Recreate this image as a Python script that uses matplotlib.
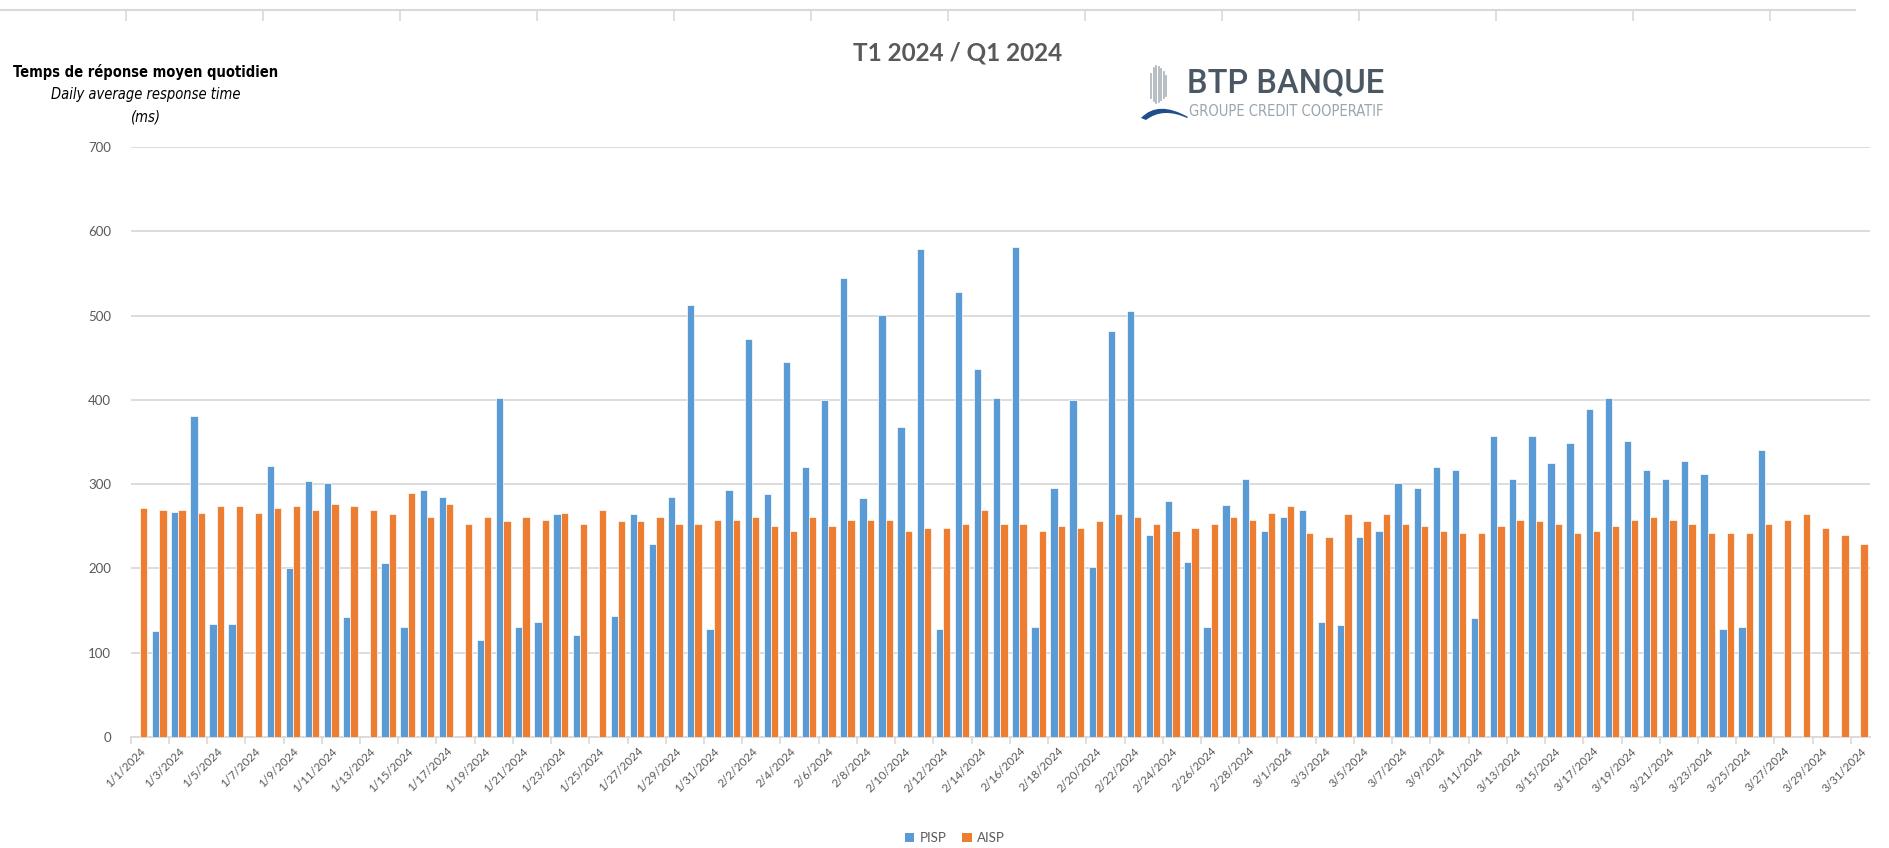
import numpy as np
import pandas as pd
import matplotlib
matplotlib.use("Agg")
import matplotlib.pyplot as plt
from matplotlib.patches import Patch, PathPatch
from matplotlib.path import Path
from matplotlib.lines import Line2D

# ---------------- data ----------------
dates = pd.date_range("2024-01-01", "2024-03-31", freq="D")
date_labels = [f"{d.month}/{d.day}/{d.year}" for d in dates]

N = np.nan
pisp = [N, 126, 267, 381, 134, 134, N, 322, 200, 304, 301, 142, N, 206, 131, 293,
        285, N, 115, 402, 131, 136, 264, 121, N, 144, 264, 229, 285, 512, 128,
        293, 472, 288, 445, 320, 400, 544, 283, 501, 368, 579, 128, 528, 437, 402,
        581, 131, 296, 400, 202, 482, 506, 240, 280, 208, 131, 275, 306, 245,
        261, 269, 136, 133, 237, 245, 301, 296, 320, 317, 141, 357, 306, 357, 325,
        349, 389, 402, 351, 317, 306, 328, 312, 128, 130, 341, N, N, N, N, N]
aisp = [272, 269, 269, 266, 274, 274, 266, 272, 274, 269, 277, 274, 269, 264, 290,
        261, 277, 253, 261, 256, 261, 258, 266, 253, 269, 256, 256, 261, 253, 253, 258,
        258, 261, 250, 245, 261, 250, 258, 258, 258, 245, 248, 248, 253, 269, 253,
        253, 245, 250, 248, 256, 264, 261, 253, 245, 248, 253, 261, 258, 266,
        274, 242, 237, 264, 256, 264, 253, 250, 245, 242, 242, 250, 258, 256, 253,
        242, 245, 250, 258, 261, 258, 253, 242, 242, 242, 253, 258, 264, 248, 240, 229]
series_names = ["PISP", "AISP"]
y_ticks = [0, 100, 200, 300, 400, 500, 600, 700]

# ---------------- style ----------------
W, H = 1889, 848
BLUE = "#5B9BD5"
ORANGE = "#ED7D31"
GRID = "#D9D9D9"
TXT = "#595959"

def fx(x):
    return x / W

def fy(y):
    return 1 - y / H

fig = plt.figure(figsize=(W / 100, H / 100), dpi=100)
fig.patch.set_facecolor("white")

left, right, top, bottom = 130.6, 1870, 147, 737
ax = fig.add_axes([fx(left), fy(bottom), fx(right - left), (bottom - top) / H])

x = np.arange(len(dates))
bw = 0.38
pisp_arr = np.array(pisp, dtype=float)
aisp_arr = np.array(aisp, dtype=float)
ax.bar(x - bw / 2, pisp_arr, width=bw, color=BLUE, edgecolor="white", linewidth=0.5,
       label=series_names[0], zorder=3)
ax.bar(x + bw / 2, aisp_arr, width=bw, color=ORANGE, edgecolor="white", linewidth=0.5,
       label=series_names[1], zorder=3)

ax.set_xlim(-0.5, len(dates) - 0.5)
ax.set_ylim(0, 700)
ax.set_yticks(y_ticks)
ax.set_yticklabels([str(v) for v in y_ticks], fontsize=9.5, color=TXT, family="Lato")
ax.yaxis.grid(True, color=GRID, linewidth=1.3, zorder=0)
ax.set_axisbelow(True)
for s in ["top", "right", "left"]:
    ax.spines[s].set_visible(False)
ax.spines["bottom"].set_color(GRID)
ax.spines["bottom"].set_linewidth(1.3)
ax.tick_params(axis="y", length=0, pad=14)

ax.set_xticks(x[::2])
ax.set_xticklabels(date_labels[::2], rotation=45, ha="right", va="top",
                   rotation_mode="anchor", fontsize=8.3, color=TXT, family="Lato")
ax.tick_params(axis="x", length=0, pad=6)
ax.set_xticks(np.arange(-0.5, len(dates), 2), minor=True)
ax.tick_params(axis="x", which="minor", length=5, color=GRID, width=1.2)

# ---------------- texts ----------------
fig.text(fx(958), fy(53), "T1 2024 / Q1 2024", ha="center", va="center",
         fontsize=17.5, fontweight="bold", color=TXT, family="Lato")

fam_n = ["DejaVu Sans"]
fig.text(fx(146), fy(72), "Temps de réponse moyen quotidien", ha="center", va="center",
         fontsize=10.5, fontweight="bold", fontstretch="condensed", color="black",
         family=fam_n)
fig.text(fx(146), fy(94), "Daily average response time", ha="center", va="center",
         fontsize=10.5, style="italic", fontstretch="condensed", color="black", family=fam_n)
fig.text(fx(146), fy(117), "(ms)", ha="center", va="center",
         fontsize=10.5, style="italic", fontstretch="condensed", color="black", family=fam_n)

# legend
handles = [Patch(facecolor=BLUE, edgecolor="none"), Patch(facecolor=ORANGE, edgecolor="none")]
fig.legend(handles, series_names, loc="center", bbox_to_anchor=(fx(955), fy(838)),
           ncol=2, frameon=False, labelcolor=TXT,
           handlelength=0.7, handleheight=0.7, handletextpad=0.4, columnspacing=1.2,
           prop={"family": "Lato", "size": 9.5})

# ---------------- logo ----------------
fig.text(fx(1187), fy(83), "BTP BANQUE", ha="left", va="center", fontsize=23.5,
         color="#4B5863", family="Roboto", fontweight="medium")
fig.text(fx(1189), fy(112), "GROUPE CREDIT COOPERATIF", ha="left", va="center",
         fontsize=10.5, fontstretch="condensed", color="#9AA6B0", family=fam_n)
stripe_x = [1151, 1153.5, 1156, 1158.5, 1161, 1163.5, 1166]
stripe_top = [74, 68, 66, 67, 69, 72, 76]
stripe_bot = [98, 101, 103, 102, 100, 98, 96]
for sx, st, sb in zip(stripe_x, stripe_top, stripe_bot):
    fig.add_artist(Line2D([fx(sx), fx(sx)], [fy(st), fy(sb)], transform=fig.transFigure,
                          color="#A9B2B9", linewidth=1.2))
verts = [(1141, 118), (1158, 100), (1188, 117), (1187, 118),
         (1163, 107), (1146, 120), (1141, 118)]
codes = [Path.MOVETO, Path.CURVE3, Path.CURVE3, Path.LINETO,
         Path.CURVE3, Path.CURVE3, Path.CLOSEPOLY]
sw = Path([(fx(a), fy(b)) for a, b in verts], codes)
fig.add_artist(PathPatch(sw, transform=fig.transFigure, facecolor="#1F4E8C",
                         edgecolor="none"))

# ---------------- cropped ruler at top ----------------
ax_top = fig.add_axes([0, fy(10) - 0.02, fx(1855), 0.02])
ax_top.set_xlim(0, 1855)
ax_top.set_ylim(0, 1)
for s in ["left", "right", "bottom"]:
    ax_top.spines[s].set_visible(False)
ax_top.spines["top"].set_color(GRID)
ax_top.spines["top"].set_linewidth(1.5)
ax_top.set_yticks([])
ax_top.xaxis.set_ticks_position("top")
ax_top.set_xticks(np.arange(126, 1855, 137))
ax_top.set_xticklabels([])
ax_top.tick_params(axis="x", direction="in", length=8, color=GRID, width=1.2)
ax_top.patch.set_alpha(0)

fig.savefig("out.png", dpi=100, facecolor="white")
